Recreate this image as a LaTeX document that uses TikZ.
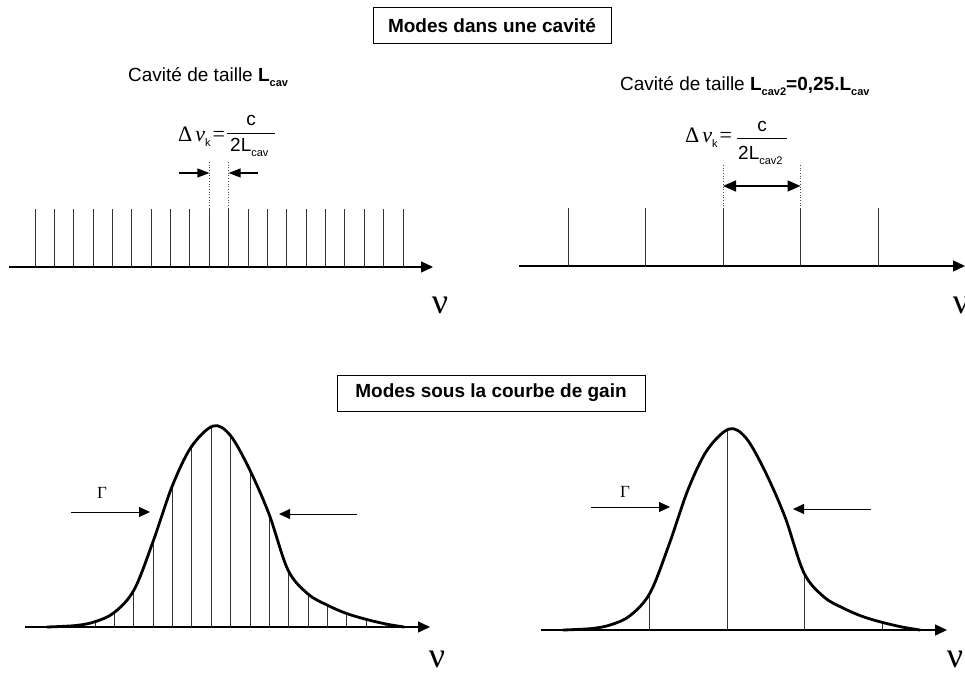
\documentclass[tikz,border=0pt]{standalone}
\usepackage{fontspec}
\setmainfont{Liberation Sans}
\newfontfamily\tim{Liberation Serif}
\usetikzlibrary{arrows.meta}
\newcommand\lowsub[1]{\raisebox{-4.5pt}{\fontsize{11}{13}\selectfont #1}}
\newcommand\dnu{{\fontsize{22}{26}\selectfont\tim Δ\hspace{3pt}\itshape ν}\lowsub{k}\hspace{2pt}{\fontsize{22}{26}\selectfont\tim =}}
\begin{document}
\begin{tikzpicture}[x=1pt,y=-1pt,
  lbl/.style={inner sep=0pt, font=\fontsize{19}{23}\selectfont},
  titlebox/.style={draw, line width=1pt, minimum width=#1, minimum height=36pt, inner sep=0pt, font=\fontsize{19}{23}\selectfont\bfseries},
  axis/.style={line width=1.4pt, -{Triangle[length=12pt,width=11pt]}},
  mode/.style={line width=0.9pt, black!80},
  dotline/.style={line width=0.7pt, dotted, black!70},
  gain/.style={line width=2.8pt, line join=round, line cap=round},
  nu/.style={inner sep=0pt, font=\fontsize{36}{40}\selectfont\tim},
  gam/.style={line width=1pt, -{Triangle[length=11pt,width=10pt]}},
  small/.style={line width=1.5pt, -{Triangle[length=12pt,width=9pt]}},
  gamtxt/.style={inner sep=0pt, font=\fontsize{17}{20}\selectfont\tim},
  gainpic/.pic={
    \begin{scope}
      \clip plot[smooth, tension=0.55] coordinates {(47,627) (76,625.5) (95,621.7) (114,612.7) (134,590) (153,541.7) (172,486.7) (191,447.3) (213,426) (230,435) (249,468.3) (269,514) (288,570) (308,594) (327,605) (346,613.3) (366,619.3) (386,624) (404,627)} -- cycle;
      \foreach \x in {#1} \draw[mode] (\x,640) -- (\x,400);
    \end{scope}
    \draw[gain] plot[smooth, tension=0.55] coordinates {(47,627) (76,625.5) (95,621.7) (114,612.7) (134,590) (153,541.7) (172,486.7) (191,447.3) (213,426) (230,435) (249,468.3) (269,514) (288,570) (308,594) (327,605) (346,613.3) (366,619.3) (386,624) (404,627)};
  }
]
\useasboundingbox (0,0) rectangle (965,676);

% titles
\node[titlebox=238pt] (t1) at (492,26) {Modes dans une cavité};
\node[titlebox=308pt] (t2) at (491,393) {Modes sous la courbe de gain};

% cavity labels
\node[lbl, anchor=base west] (cl) at (128,82) {Cavité de taille \textbf{L\lowsub{cav}}};
\node[lbl, anchor=base west] (cr) at (620,91) {Cavité de taille \textbf{L\lowsub{cav2}=0,25.L\lowsub{cav}}};

% left formula
\node[lbl, anchor=base west] (dl) at (178,142) {\dnu};
\coordinate (bl1) at (227,133); \coordinate (bl2) at (275,133);
\draw[line width=0.9pt] (bl1) -- (bl2);
\node[lbl, anchor=base] (nl) at (251,126) {c};
\node[lbl, anchor=base west] (denl) at (230,152) {2L\lowsub{cav}};

% right formula
\node[lbl, anchor=base west] (dr) at (685,143) {\dnu};
\coordinate (br1) at (737,138); \coordinate (br2) at (787,138);
\draw[line width=0.9pt] (br1) -- (br2);
\node[lbl, anchor=base] (nr) at (762,132) {c};
\node[lbl, anchor=base west] (denr) at (738,160) {2L\lowsub{cav2}};

% left comb
\coordinate (la0) at (9,267); \coordinate (la1) at (433,267);
\draw[axis] (la0) -- (la1);
\foreach \i in {0,...,19} \draw[mode] ({35+19.368*\i},267) -- ++(0,-58);
\coordinate (ld1t) at (209.3,162); \coordinate (ld1b) at (209.3,209);
\coordinate (ld2t) at (228.7,162); \coordinate (ld2b) at (228.7,209);
\draw[dotline] (ld1t) -- (ld1b);
\draw[dotline] (ld2t) -- (ld2b);
\coordinate (lsa) at (179,173); \coordinate (lsa2) at (209.3,173);
\coordinate (lsb) at (258,173); \coordinate (lsb2) at (228.7,173);
\draw[small] (lsa) -- (lsa2);
\draw[small] (lsb) -- (lsb2);
\node[nu] (nu1) at (440,305) {ν};

% right comb
\coordinate (ra0) at (519,266); \coordinate (ra1) at (965,266);
\draw[axis] (ra0) -- (ra1);
\foreach \x in {568,645.5,723,800.5,878} \draw[mode] (\x,266) -- (\x,208);
\coordinate (rd1t) at (723,165); \coordinate (rd1b) at (723,208);
\coordinate (rd2t) at (800.5,165); \coordinate (rd2b) at (800.5,208);
\draw[dotline] (rd1t) -- (rd1b);
\draw[dotline] (rd2t) -- (rd2b);
\coordinate (rda) at (723,186); \coordinate (rdb) at (800.5,186);
\draw[line width=1.5pt, {Triangle[length=13pt,width=11pt]}-{Triangle[length=13pt,width=11pt]}] (rda) -- (rdb);
\node[nu] (nu2) at (961,305) {ν};

% bottom left gain
\coordinate (ba0) at (25,627); \coordinate (ba1) at (430,627);
\draw[axis] (ba0) -- (ba1);
\pic at (0,0) {gainpic={95,114.37,...,386}};
\coordinate (g1a) at (71,512); \coordinate (g1b) at (150,512);
\draw[gam] (g1a) -- (g1b);
\coordinate (g2a) at (357,514); \coordinate (g2b) at (279,514);
\draw[gam] (g2a) -- (g2b);
\node[gamtxt] (G1) at (102,493) {Γ};
\node[nu] (nu3) at (437,659) {ν};

% bottom right gain
\coordinate (bb0) at (541,630); \coordinate (bb1) at (947,630);
\draw[axis] (bb0) -- (bb1);
\pic at (516,3) {gainpic={133.7,211.2,288.7,366.2}};
\coordinate (g3a) at (591,507); \coordinate (g3b) at (670,507);
\draw[gam] (g3a) -- (g3b);
\coordinate (g4a) at (871,509); \coordinate (g4b) at (793,509);
\draw[gam] (g4a) -- (g4b);
\node[gamtxt] (G2) at (625,492) {Γ};
\node[nu] (nu4) at (955,659) {ν};
\end{tikzpicture}
\end{document}
